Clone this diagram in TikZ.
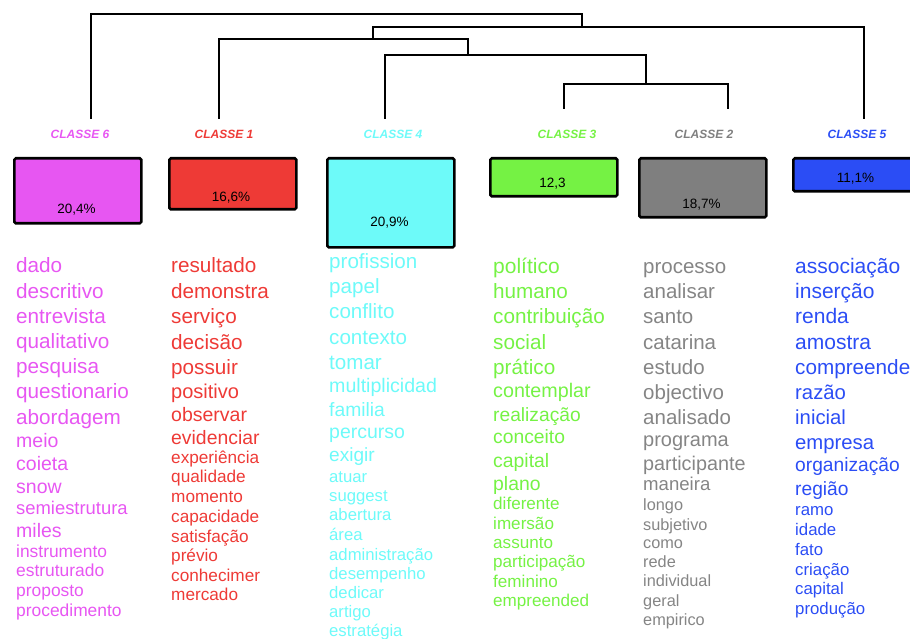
\documentclass[tikz,border=0pt]{standalone}
\usepackage{fontspec}
\setmainfont{Liberation Sans}
\definecolor{c6}{HTML}{E756F2}
\definecolor{c1}{HTML}{EE3A36}
\definecolor{c4}{HTML}{6DFAF9}
\definecolor{c3}{HTML}{75F244}
\definecolor{c2}{HTML}{7F7F7F}
\definecolor{c2t}{HTML}{858585}
\definecolor{c5}{HTML}{2B4DF5}
\begin{document}
\begin{tikzpicture}[x=1pt,y=-1pt]
\tikzset{
 dendro/.style={line width=2pt, line cap=rect},
 clsbox/.style={draw=black, line width=2.6pt, rounded corners=1.5pt, inner sep=0pt, anchor=north west, minimum width=127pt},
 clslabel/.style={font=\fontsize{12}{12}\selectfont\bfseries\itshape, anchor=base, inner sep=0pt},
 pct/.style={font=\fontsize{13.5}{13.5}\selectfont, anchor=base, inner sep=0pt},
 word/.style={anchor=base west, inner sep=0pt},
}
\useasboundingbox (0,0) rectangle (910,639);
\clip (0,0) rectangle (910,639);

% dendrogram
\coordinate (leaf6) at (90.5,118);
\coordinate (leaf1) at (219,118);
\coordinate (leaf4) at (385,118);
\coordinate (leaf3) at (564,108);
\coordinate (leaf2) at (728,108);
\coordinate (leaf5) at (864,118);
\coordinate (k32) at (646,84.3);
\coordinate (k4) at (468,55);
\coordinate (k1) at (373,39.3);
\coordinate (k5) at (582,27.3);
\coordinate (root) at (336,14);
\draw[dendro] (leaf3) |- (k32) -| (leaf2);
\draw[dendro] (leaf4) |- (k4) -| (k32);
\draw[dendro] (leaf1) |- (k1) -| (k4);
\draw[dendro] (k1) |- (k5) -| (leaf5);
\draw[dendro] (leaf6) |- (root) -| (k5);

% class labels
\node[clslabel, text=c6] (l6) at (80,139) {CLASSE 6};
\node[clslabel, text=c1] (l1) at (224,139) {CLASSE 1};
\node[clslabel, text=c4] (l4) at (393,139) {CLASSE 4};
\node[clslabel, text=c3] (l3) at (567,139) {CLASSE 3};
\node[clslabel, text=c2] (l2) at (704,139) {CLASSE 2};
\node[clslabel, text=c5] (l5) at (857,139) {CLASSE 5};

% boxes
\node[clsbox, fill=c6, minimum height=65pt] (b6) at (13,157) {};
\node[clsbox, fill=c1, minimum height=51pt] (b1) at (168,157) {};
\node[clsbox, fill=c4, minimum height=89pt] (b4) at (326,157) {};
\node[clsbox, fill=c3, minimum height=38pt] (b3) at (489,157) {};
\node[clsbox, fill=c2, minimum height=59pt] (b2) at (638,157) {};
\node[clsbox, fill=c5, minimum height=33pt] (b5) at (792,157) {};

\node[pct] (p6) at (76.5,214) {20,4\%};
\node[pct] (p1) at (231,201.7) {16,6\%};
\node[pct] (p4) at (389.5,226.7) {20,9\%};
\node[pct] (p3) at (552.5,187.7) {12,3};
\node[pct] (p2) at (701.5,208.3) {18,7\%};
\node[pct] (p5) at (855.5,182.7) {11,1\%};

% word lists
\foreach \s/\y/\w [count=\i] in {20.7/272.7/dado, 20.7/298.3/descritivo, 20.7/323.3/entrevista, 20.7/348.3/qualitativo, 20.7/373.3/pesquisa, 20.7/398.3/questionario, 20.7/424/abordagem, 19.5/447.3/meio, 19.5/470.7/coieta, 19.5/493.3/snow, 18.4/514/semiestrutura, 19.5/537.3/miles, 17.4/557.3/instrumento, 17.4/576.7/estruturado, 17.4/596.7/proposto, 17.4/616/procedimento}
  \node[word, text=c6, font=\fontsize{\s}{\s}\selectfont] (w6-\i) at (16,\y) {\w};

\foreach \s/\y/\w [count=\i] in {20.7/272.7/resultado, 20.7/298.3/demonstra, 20.7/323.3/serviço, 20.7/349/decisão, 20.7/374/possuir, 20/398.3/positivo, 19.5/421.7/observar, 19.4/444/evidenciar, 17.2/463.3/experiência, 17.2/482.7/qualidade, 17.2/502.3/momento, 17.2/522.3/capacidade, 17.2/542.3/satisfação, 17.2/561.7/prévio, 17.2/581/conhecimer, 17.2/600/mercado}
  \node[word, text=c1, font=\fontsize{\s}{\s}\selectfont] (w1-\i) at (171,\y) {\w};

\foreach \s/\y/\w [count=\i] in {20.6/268.3/profission, 20.6/293.3/papel, 20.6/318.3/conflito, 20.6/344/contexto, 20.6/369/tomar, 19.6/392.3/multiplicidad, 19.3/416/familia, 19.5/438.3/percurso, 19.1/461/exigir, 16.7/482.3/atuar, 16.7/501.7/suggest, 16.7/520.7/abertura, 16.7/540/área, 16.7/560/administração, 16.7/579.3/desempenho, 16.7/598.3/dedicar, 16.7/617.3/artigo, 16.7/636.7/estratégia}
  \node[word, text=c4, font=\fontsize{\s}{\s}\selectfont] (w4-\i) at (329,\y) {\w};

\foreach \s/\y/\w [count=\i] in {21/273.3/político, 20.7/298.3/humano, 20.7/323.3/contribuição, 20.7/349/social, 20.7/374/prático, 19.7/397.3/contemplar, 19.2/421.7/realização, 19.3/443.3/conceito, 19.4/467.3/capital, 19.4/490/plano, 17.1/509.3/diferente, 17.1/529.3/imersão, 17.1/548.3/assunto, 17.1/567.7/participação, 17.1/587.7/feminino, 17.1/606.7/empreended}
  \node[word, text=c3, font=\fontsize{\s}{\s}\selectfont] (w3-\i) at (493,\y) {\w};

\foreach \s/\y/\w [count=\i] in {20.5/273.3/processo, 20.5/298.3/analisar, 20.5/323.3/santo, 20.5/349/catarina, 20.5/374/estudo, 20.5/399/objectivo, 20.5/424/analisado, 20/446.7/programa, 19.8/470/participante, 18.6/490.7/maneira, 16.3/510/longo, 16.3/530/subjetivo, 16.3/548.3/como, 16.3/567.3/rede, 16.3/586.7/individual, 16.3/606/geral, 16.3/625/empirico}
  \node[word, text=c2t, font=\fontsize{\s}{\s}\selectfont] (w2-\i) at (643,\y) {\w};

\foreach \s/\y/\w [count=\i] in {21/273.3/associação, 21/298.3/inserção, 21/323.3/renda, 21/349/amostra, 20.7/374/compreende, 20.3/399/razão, 20.3/424/inicial, 20.3/449/empresa, 19.2/471.7/organização, 19.2/495/região, 16.8/515/ramo, 16.8/535.7/idade, 16.8/555/fato, 16.8/575/criação, 16.8/594.3/capital, 16.8/614/produção}
  \node[word, text=c5, font=\fontsize{\s}{\s}\selectfont] (w5-\i) at (795,\y) {\w};
\end{tikzpicture}
\end{document}
